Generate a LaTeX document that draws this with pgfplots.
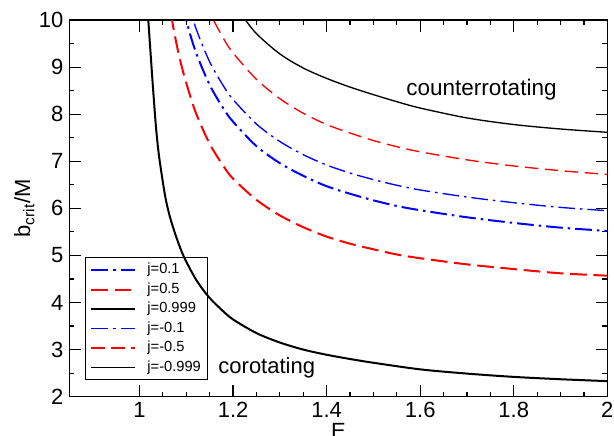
\documentclass[border=0pt]{standalone}
\usepackage{fontspec}
\setmainfont{Liberation Sans}
\usepackage{pgfplots}
\pgfplotsset{compat=1.18}
\begin{document}
\begin{tikzpicture}
\begin{axis}[
  at={(0pt,0pt)}, anchor=south west,
  scale only axis, width=322.8pt, height=226pt,
  xmin=0.85, xmax=2, ymin=2, ymax=10,
  xtick={1,1.2,1.4,1.6,1.8,2},
  ytick={2,3,4,5,6,7,8,9,10},
  minor x tick num=3, minor y tick num=1,
  tick align=inside,
  major tick length=7pt, minor tick length=3pt,
  every tick/.style={black, line width=0.7pt},
  axis line style={line width=0.9pt},
  tick label style={font=\fontsize{13.2}{15}\selectfont},
  /pgf/number format/assume math mode=true,
  xlabel={E},
  ylabel={b\textsubscript{crit}/M},
  label style={font=\fontsize{13.2}{15}\selectfont},
  xlabel style={at={(axis description cs:0.5,0)}, anchor=north, inner sep=0pt, yshift=-15.6pt},
  ylabel style={at={(axis description cs:-0.0835,0.5)}, anchor=center},
  legend style={at={(axis description cs:0.029,0.044)}, anchor=south west,
    fill=none, draw=black, line width=0.6pt,
    font=\fontsize{8.8}{10}\selectfont,
    nodes={inner sep=1pt, text height=6.5pt, text depth=2pt},
    row sep=1.2pt, inner xsep=3pt, inner ysep=2pt},
  legend cell align=left,
  legend image code/.code={\draw[#1] (0pt,0pt) -- (26pt,0pt); \path (32pt,0pt);},
]
\addplot[blue, line width=1.2pt, dash pattern=on 10pt off 3pt on 1.5pt off 3pt, smooth] coordinates {
(1.08,10.92) (1.10,10.0) (1.12,9.33) (1.15,8.62) (1.18,8.11) (1.2,7.84) (1.25,7.32)
(1.3,6.96) (1.35,6.69) (1.4,6.47) (1.45,6.31) (1.5,6.17) (1.55,6.05) (1.6,5.96)
(1.7,5.81) (1.8,5.69) (1.9,5.59) (2.0,5.52)};
\addlegendentry{j=0.1}
\addplot[red, line width=1.2pt, dash pattern=on 10pt off 4pt, smooth] coordinates {
(1.06,10.63) (1.07,9.97) (1.08,9.45) (1.09,9.02) (1.10,8.66) (1.12,8.04) (1.15,7.37)
(1.18,6.89) (1.2,6.63) (1.25,6.18) (1.3,5.85) (1.35,5.60) (1.4,5.40) (1.45,5.25)
(1.5,5.13) (1.55,5.02) (1.6,4.94) (1.7,4.81) (1.8,4.71) (1.9,4.62) (2.0,4.57)};
\addlegendentry{j=0.5}
\addplot[black, line width=1.2pt, smooth] coordinates {
(1.015,10.6) (1.0188,10.0) (1.025,9.1) (1.03,8.4) (1.035,7.75) (1.04,7.25) (1.045,6.88)
(1.055,6.25) (1.065,5.82) (1.08,5.35) (1.095,4.97) (1.12,4.50) (1.147,4.13) (1.175,3.85)
(1.2,3.64) (1.25,3.35) (1.3,3.15) (1.35,3.00) (1.4,2.89) (1.45,2.80) (1.5,2.72)
(1.6,2.58) (1.7,2.49) (1.8,2.42) (1.9,2.37) (2.0,2.33)};
\addlegendentry{j=0.999}
\addplot[blue, line width=0.8pt, dash pattern=on 10pt off 3pt on 1.5pt off 3pt, smooth] coordinates {
(1.10,10.52) (1.12,9.84) (1.15,9.11) (1.18,8.59) (1.2,8.31) (1.25,7.79) (1.3,7.42)
(1.35,7.14) (1.4,6.92) (1.45,6.75) (1.5,6.61) (1.55,6.49) (1.6,6.39) (1.7,6.24)
(1.8,6.12) (1.9,6.02) (2.0,5.95)};
\addlegendentry{j=-0.1}
\addplot[red, line width=0.8pt, dash pattern=on 8pt off 4pt, smooth] coordinates {
(1.14,10.36) (1.15,10.15) (1.18,9.60) (1.2,9.30) (1.25,8.74) (1.3,8.33) (1.35,8.02)
(1.4,7.78) (1.45,7.60) (1.5,7.44) (1.55,7.31) (1.6,7.20) (1.7,7.03) (1.8,6.90)
(1.9,6.80) (2.0,6.72)};
\addlegendentry{j=-0.5}
\addplot[black, line width=0.8pt, smooth] coordinates {
(1.20,10.40) (1.22,10.09) (1.25,9.71) (1.3,9.28) (1.35,8.98) (1.4,8.76) (1.45,8.575)
(1.5,8.415) (1.55,8.265) (1.6,8.13) (1.7,7.92) (1.8,7.78) (1.9,7.685) (2.0,7.615)};
\addlegendentry{j=-0.999}
\node[font=\fontsize{13.5}{15}\selectfont] at (axis cs:1.731,8.53) {counterrotating};
\node[font=\fontsize{13.2}{15}\selectfont] at (axis cs:1.272,2.61) {corotating};
\end{axis}
\pgfresetboundingbox
\useasboundingbox (-41.6pt,-23.6pt) rectangle (326.8pt,238pt);
\end{tikzpicture}
\end{document}
